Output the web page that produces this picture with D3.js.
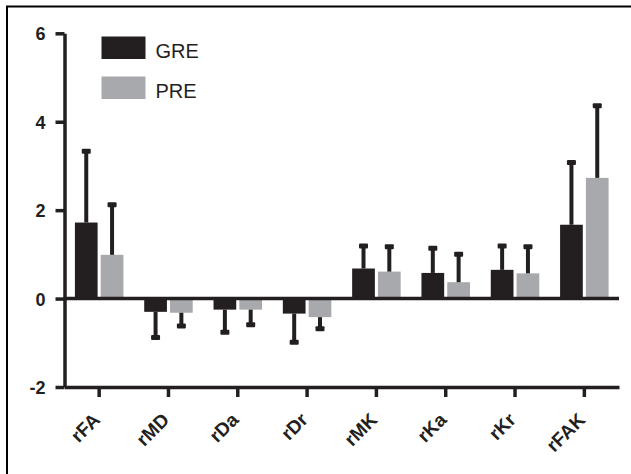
<!DOCTYPE html>
<html>
<head>
<meta charset="UTF-8">
<title></title>
<style>
  body { margin: 0; background: #fff; }
  svg text { font-family: Arial, "Liberation Sans", sans-serif; fill: #231f20; }
</style>
</head>
<body>
<script src="https://cdn.jsdelivr.net/npm/d3@7/dist/d3.min.js"></script>
<script>
    var width = 631, height = 474;

    // data
    var categories = ["rFA", "rMD", "rDa", "rDr", "rMK", "rKa", "rKr", "rFAK"];
    var seriesNames = ["GRE", "PRE"];
    var greMean = [1.72, -0.30, -0.25, -0.34, 0.68, 0.58, 0.65, 1.67];
    var greErr  = [1.61, 0.58, 0.51, 0.65, 0.51, 0.56, 0.54, 1.41];
    var preMean = [0.99, -0.32, -0.25, -0.42, 0.61, 0.37, 0.57, 2.73];
    var preErr  = [1.13, 0.30, 0.34, 0.26, 0.56, 0.63, 0.60, 1.63];
    var yTicks = [-2, 0, 2, 4, 6];

    var colors = { GRE: "#231f20", PRE: "#a7a9ac" };
    var ink = "#231f20";

    var padding = { top: 33.3, right: 12, bottom: 87, left: 64.5 };

    var svg = d3.select("body").append("svg")
        .attr("width", width)
        .attr("height", height);

    // frame (only top and left visible in the crop)
    svg.append("rect")
        .attr("x", 7).attr("y", 6.5)
        .attr("width", width + 10).attr("height", height + 10)
        .attr("fill", "none").attr("stroke", "#000").attr("stroke-width", 2);

    var rows = categories.map((c, i) => ({
        cat: c,
        values: [
            { key: "GRE", v: greMean[i], e: greErr[i] },
            { key: "PRE", v: preMean[i], e: preErr[i] }
        ]
    }));

    var x0 = d3.scaleBand()
        .domain(categories)
        .range([padding.left, 619])
        .paddingInner(0.3)
        .paddingOuter(0.15);

    var x1 = d3.scaleBand()
        .domain(seriesNames)
        .range([0, x0.bandwidth()])
        .paddingInner(0.12);

    var y = d3.scaleLinear()
        .domain([-2, 6])
        .range([387, padding.top]);

    // bars
    var groups = svg.append("g").selectAll("g")
        .data(rows)
        .join("g")
        .attr("transform", d => "translate(" + x0(d.cat) + ",0)");

    groups.selectAll("rect")
        .data(d => d.values)
        .join("rect")
        .attr("x", d => x1(d.key))
        .attr("width", x1.bandwidth())
        .attr("y", d => y(Math.max(0, d.v)))
        .attr("height", d => Math.abs(y(d.v) - y(0)))
        .attr("fill", d => colors[d.key]);

    // error bars (one-sided, away from zero)
    var errs = groups.selectAll("g.err")
        .data(d => d.values)
        .join("g")
        .attr("class", "err");

    errs.append("line")
        .attr("x1", d => x1(d.key) + x1.bandwidth() / 2)
        .attr("x2", d => x1(d.key) + x1.bandwidth() / 2)
        .attr("y1", d => y(d.v))
        .attr("y2", d => y(d.v + Math.sign(d.v) * d.e))
        .attr("stroke", ink)
        .attr("stroke-width", 4);

    errs.append("rect")
        .attr("x", d => x1(d.key) + x1.bandwidth() / 2 - 4.5)
        .attr("y", d => y(d.v + Math.sign(d.v) * d.e) - 2.5)
        .attr("width", 9)
        .attr("height", 5)
        .attr("rx", 1)
        .attr("fill", ink);

    // zero line
    svg.append("line")
        .attr("x1", padding.left).attr("x2", 619)
        .attr("y1", y(0)).attr("y2", y(0))
        .attr("stroke", ink).attr("stroke-width", 3.5);

    // axes
    var yAxis = d3.axisLeft(y)
        .tickValues(yTicks)
        .tickFormat(d => String(d))
        .tickSize(9)
        .tickSizeOuter(0)
        .tickPadding(10);

    var gy = svg.append("g")
        .attr("transform", "translate(" + padding.left + ",0)")
        .call(yAxis);

    var xAxis = d3.axisBottom(x0)
        .tickSize(10)
        .tickSizeOuter(0)
        .tickFormat("");

    var gx = svg.append("g")
        .attr("transform", "translate(0," + y(-2) + ")")
        .call(xAxis);

    [gx, gy].forEach(g => {
        g.attr("font-size", null).attr("font-family", null);
        g.select(".domain").attr("stroke", ink).attr("stroke-width", 3.5);
        g.selectAll(".tick line").attr("stroke", ink).attr("stroke-width", 3.5);
    });

    gy.selectAll(".tick text")
        .attr("fill", ink)
        .attr("dy", "0.36em")
        .style("font-size", "18px")
        .style("font-weight", "bold");

    // rotated category labels
    gx.selectAll(".tick")
        .append("text")
        .attr("text-anchor", "end")
        .attr("transform", "translate(2,34) rotate(-45)")
        .style("font-size", "19px")
        .style("font-weight", "bold")
        .text(d => d);

    // legend
    var legend = svg.append("g").selectAll("g")
        .data(seriesNames)
        .join("g")
        .attr("transform", (d, i) => "translate(101.5," + (36.5 + i * 40) + ")");

    legend.append("rect")
        .attr("width", 44).attr("height", 22.5)
        .attr("fill", d => colors[d]);

    legend.append("text")
        .attr("x", 54).attr("y", 21.5)
        .style("font-size", "20px")
        .text(d => d);
</script>
</body>
</html>
